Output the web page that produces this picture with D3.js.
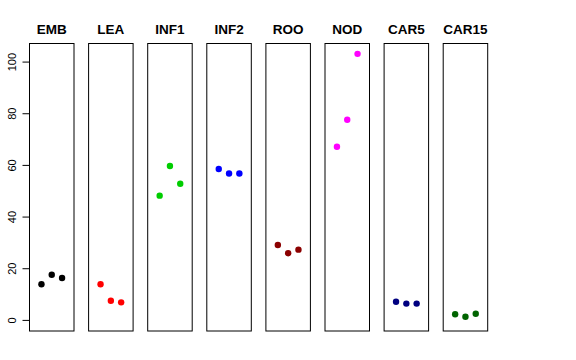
<!DOCTYPE html>
<html lang="en">

<head>
  <meta charset="UTF-8">
  <title>Tissue panels</title>
  <script src="https://d3js.org/d3.v7.min.js"></script>
  <style>
    body {
      margin: 0;
      padding: 0;
      background-color: #ffffff;
      font-family: "Liberation Sans", Arial, sans-serif;
    }

    .panel-title {
      font-size: 13.5px;
      font-weight: bold;
      fill: #000;
    }

    .axis text {
      font-size: 11px;
      fill: #000;
    }

    .axis line {
      stroke: #000;
    }

    .axis path {
      display: none;
    }

    .frame {
      fill: none;
      stroke: #000;
      stroke-width: 1;
    }
  </style>
</head>

<body>
  <div id="chart"></div>
  <script>
    const tissues = ["EMB", "LEA", "INF1", "INF2", "ROO", "NOD", "CAR5", "CAR15"];
    const colors = ["#000000", "#FF0000", "#00CD00", "#0000FF", "#8B0000", "#FF00FF", "#000080", "#006400"];
    const reps = [1, 2, 3];
    const EMB = [13.8, 17.5, 16.2];
    const LEA = [13.8, 7.4, 6.8];
    const INF1 = [48.1, 59.6, 52.7];
    const INF2 = [58.4, 56.7, 56.7];
    const ROO = [29.0, 25.8, 27.2];
    const NOD = [67.0, 77.5, 103.0];
    const CAR5 = [7.0, 6.3, 6.3];
    const CAR15 = [2.2, 1.2, 2.4];
    const yTicks = [0, 20, 40, 60, 80, 100];

    const values = [EMB, LEA, INF1, INF2, ROO, NOD, CAR5, CAR15];

    const width = 576, height = 360;
    const margin = { top: 43.5, bottom: 29, left: 29.5 };
    const panelW = 44.5, pitch = 59.1;
    const plotH = height - margin.top - margin.bottom;

    const svg = d3.select("#chart")
      .append("svg")
      .attr("width", width)
      .attr("height", height);

    const y = d3.scaleLinear()
      .domain([-4.3, 107])
      .range([margin.top + plotH, margin.top]);

    const x = d3.scaleLinear()
      .domain([-0.16, 4.16])
      .range([0, panelW]);

    // y axis only on the first panel
    svg.append("g")
      .attr("class", "axis")
      .attr("transform", `translate(${margin.left}, 0)`)
      .call(d3.axisLeft(y).tickValues(yTicks).tickSize(7).tickPadding(0))
      .selectAll("text")
      .attr("transform", "rotate(-90, -17, 0)")
      .attr("x", -17)
      .attr("y", 0)
      .attr("dy", "0.35em")
      .style("text-anchor", "middle");

    tissues.forEach((t, i) => {
      const g = svg.append("g")
        .attr("transform", `translate(${margin.left + i * pitch}, 0)`);

      g.append("rect")
        .attr("class", "frame")
        .attr("x", 0)
        .attr("y", margin.top)
        .attr("width", panelW)
        .attr("height", plotH);

      g.append("text")
        .attr("class", "panel-title")
        .attr("x", panelW / 2)
        .attr("y", 34)
        .attr("text-anchor", "middle")
        .text(t);

      g.selectAll("circle")
        .data(values[i])
        .enter()
        .append("circle")
        .attr("cx", (d, j) => x(reps[j]))
        .attr("cy", d => y(d))
        .attr("r", 3.2)
        .attr("fill", colors[i]);
    });
  </script>
</body>

</html>
